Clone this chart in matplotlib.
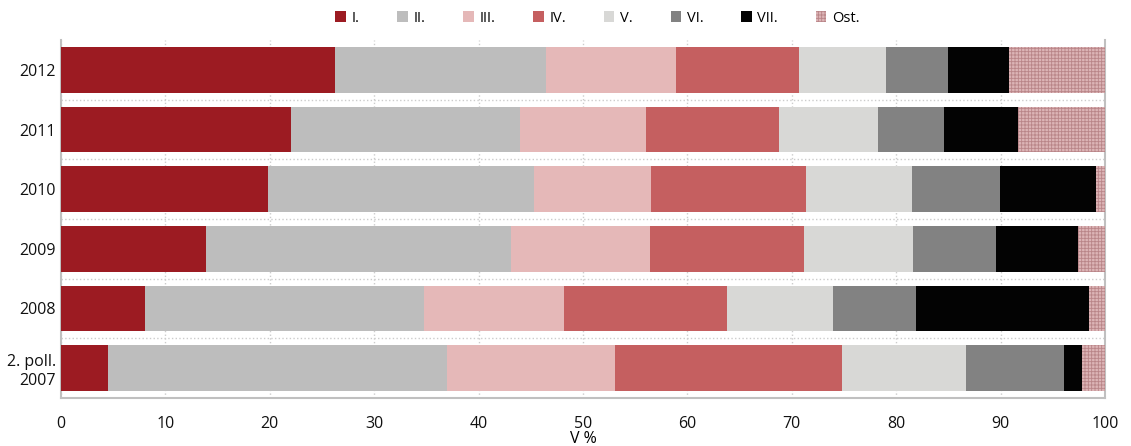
import numpy as np
import matplotlib
matplotlib.use("Agg")
from matplotlib import pyplot as plt

plt.rcParams['font.family'] = ['Open Sans', 'DejaVu Sans']
plt.rcParams['hatch.linewidth'] = 0.6

years = ['2. poll.\n2007', '2008', '2009', '2010', '2011', '2012']
groups = ['I.', 'II.', 'III.', 'IV.', 'V.', 'VI.', 'VII.', 'Ost.']

# shares in %, one list per group, order follows `years`
s_I = [4.5, 8.0, 13.9, 19.8, 22.0, 26.2]
s_II = [32.5, 26.8, 29.2, 25.5, 22.0, 20.3]
s_III = [16.1, 13.4, 13.3, 11.2, 12.0, 12.4]
s_IV = [21.7, 15.6, 14.8, 14.9, 12.8, 11.8]
s_V = [11.9, 10.1, 10.4, 10.1, 9.5, 8.3]
s_VI = [9.4, 8.0, 8.0, 8.4, 6.3, 6.0]
s_VII = [1.7, 16.6, 7.8, 9.2, 7.1, 5.8]
s_ost = [2.2, 1.5, 2.6, 0.9, 8.3, 9.2]

series = [s_I, s_II, s_III, s_IV, s_V, s_VI, s_VII, s_ost]
colors = ['#9c1b22', '#bdbdbd', '#e5b8b8', '#c55f60', '#d8d8d6', '#828282', '#030303', '#dcb4b6']

fig = plt.figure(figsize=(11.31, 4.46), dpi=100)
ax = fig.add_axes([61 / 1131, 48 / 446, 1044 / 1131, 358 / 446])

y = np.arange(len(years))
left = np.zeros(len(years))
for name, vals, col in zip(groups, series, colors):
    if name == 'Ost.':
        ax.barh(y, vals, left=left, height=0.76, color=col, edgecolor='#b98588',
                hatch='+++++', linewidth=0, label=name, zorder=3)
    else:
        ax.barh(y, vals, left=left, height=0.76, color=col, linewidth=0,
                label=name, zorder=3)
    left += np.array(vals)

ax.set_xlim(0, 100)
ax.set_ylim(-0.5, 5.5)
ax.set_xticks(range(0, 101, 10))
ax.set_yticks(y)
ax.set_yticklabels(years)
ax.set_yticks(np.arange(0.5, 5.0, 1.0), minor=True)
ax.tick_params(axis='both', which='both', length=0, labelsize=11.5, colors='#111111')
ax.tick_params(axis='x', pad=13)
ax.grid(axis='x', which='major', color='#cccccc', linestyle=':', linewidth=1, zorder=0)
ax.grid(axis='y', which='minor', color='#cccccc', linestyle=':', linewidth=1, zorder=0)
ax.set_xlabel('V %', fontsize=11.5, labelpad=-1)

for side in ['left', 'bottom', 'right']:
    ax.spines[side].set_color('#c0c0c0')
    ax.spines[side].set_linewidth(1.5)
ax.spines['top'].set_visible(False)

ax.legend(loc='center', bbox_to_anchor=(0.514, 1.061), ncol=8, frameon=False,
          fontsize=10.5, handlelength=0.7, handleheight=0.7, handletextpad=0.4,
          columnspacing=2.6)

fig.savefig('out.png', dpi=100)
